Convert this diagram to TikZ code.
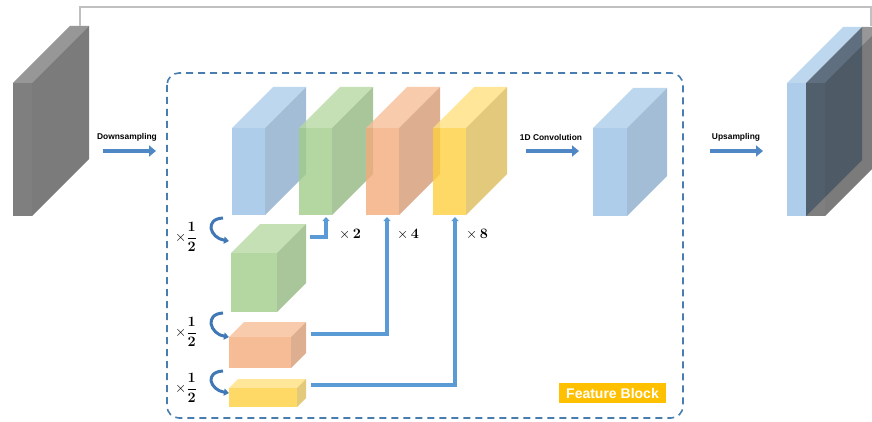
\documentclass[tikz,border=0pt]{standalone}
\usepackage{amsmath}
\usepackage[no-math]{fontspec}
\newfontfamily\arialfont{Liberation Sans}
\usetikzlibrary{arrows.meta}

% face colours: T top, F front, S side
\definecolor{grayT}{HTML}{979797}
\definecolor{grayF}{HTML}{7F7F7F}
\definecolor{grayS}{HTML}{7B7B7B}
\definecolor{blueT}{HTML}{BDD7EE}
\definecolor{blueF}{HTML}{ADCDEA}
\definecolor{blueS}{HTML}{A3BDD7}
\definecolor{greenT}{HTML}{B6D8A1}
\definecolor{greenF}{HTML}{A1CC88}
\definecolor{greenS}{HTML}{94B681}
\definecolor{orangeT}{HTML}{F6BE99}
\definecolor{orangeF}{HTML}{F3AB7C}
\definecolor{orangeS}{HTML}{D59A74}
\definecolor{yellowT}{HTML}{FFE080}
\definecolor{yellowF}{HTML}{FFD040}
\definecolor{yellowS}{HTML}{DCBC5A}
\definecolor{flowblue}{HTML}{4F87C4}
\definecolor{linkblue}{HTML}{5B9BD5}
\definecolor{curlblue}{HTML}{3F78B5}
\definecolor{dashblue}{HTML}{4A7DAF}
\definecolor{skipgray}{HTML}{C0C0C0}
\definecolor{tagyellow}{HTML}{FFC000}

% #1 name, #2/#3 front top left, #4 width, #5 height, #6 depth, #7 colour prefix
\newcommand{\prism}[7]{%
  \fill[#7F] (#2,#3) rectangle ++(#4,#5);
  \fill[#7T] (#2,#3) -- ++(#6,-#6) -- ++(#4,0) -- ++(-#6,#6) -- cycle;
  \fill[#7S] (#2+#4,#3) -- ++(#6,-#6) -- ++(0,#5) -- ++(-#6,#6) -- cycle;
  \coordinate (#1) at (#2,#3);
}

\tikzset{
  flow/.style={flowblue, line width=4.5pt, -{Triangle[length=7pt,width=11pt]}},
  link/.style={linkblue, line width=3.5pt, -{Triangle[length=4pt,width=7pt]}},
  curl/.style={curlblue, line width=3pt, -{Triangle[length=5pt,width=7pt]}},
  lbl/.style={font=\arialfont\bfseries\fontsize{8.4}{10}\selectfont},
  mlbl/.style={font=\fontsize{14.5}{16}\selectfont},
}

\begin{document}
\begin{tikzpicture}[x=1pt,y=-1pt]
    \useasboundingbox (0,0) rectangle (872,422);
    \clip (0,0) rectangle (872,422);

    % input and skip line
    \prism{inp}{13}{83}{19}{133}{57}{gray}
    \coordinate (skip-a) at (80,26);
    \coordinate (skip-b) at (871,26);
    \draw[skipgray, line width=2.5pt] (skip-a) |- (871,7) -- (skip-b);

    % feature block frame
    \draw[dashblue, line width=1.6pt, dash pattern=on 7pt off 5pt, rounded corners=12pt]
        (167,73) rectangle (683,418);
    \node[fill=tagyellow, text=white, inner sep=2pt, minimum width=107pt, minimum height=20pt,
          font=\arialfont\bfseries\fontsize{14}{15}\selectfont] (tag) at (612.5,393) {Feature Block};

    % main row
    \prism{b1}{232}{128}{33}{87}{41}{blue}
    \begin{scope}[fill opacity=0.8]
        \prism{g1}{299}{128}{33}{87}{41}{green}
        \prism{o1}{366}{128}{33}{87}{41}{orange}
        \prism{y1}{433}{128}{33}{87}{41}{yellow}
    % pooled branches
        \prism{g2}{231}{253}{46}{59}{29}{green}
        \prism{o2}{229}{337}{62}{31}{15}{orange}
        \prism{y2}{229}{388}{68}{19}{9}{yellow}
    \end{scope}

    % output
    \prism{conv}{593}{128}{34}{88}{40}{blue}
    \prism{outb}{787}{83}{19}{133}{56}{blue}
    \begin{scope}[blend mode=multiply]
        \prism{outg}{806}{83}{19}{133}{56}{gray}
    \end{scope}

    % flow arrows
    \coordinate (down-a) at (103,151);
    \coordinate (down-b) at (156,151);
    \coordinate (conv-a) at (526,151);
    \coordinate (conv-b) at (579,151);
    \coordinate (up-a) at (710,151);
    \coordinate (up-b) at (763,151);
    \draw[flow] (down-a) -- (down-b);
    \draw[flow] (conv-a) -- (conv-b);
    \draw[flow] (up-a) -- (up-b);
    \node[lbl] (down-txt) at (127,137) {Downsampling};
    \node[lbl] (conv-txt) at (551,137) {1D Convolution};
    \node[lbl] (up-txt) at (736,137) {Upsampling};

    % halving arrows
    \coordinate (h1-a) at (223,218);
    \coordinate (h1-b) at (229,241);
    \coordinate (h2-a) at (223,313);
    \coordinate (h2-b) at (229,337);
    \coordinate (h3-a) at (223,371);
    \coordinate (h3-b) at (229,393);
    \draw[curl] (h1-a) .. controls +(-19,1) and +(-19,-3) .. (h1-b);
    \draw[curl] (h2-a) .. controls +(-19,1) and +(-19,-3) .. (h2-b);
    \draw[curl] (h3-a) .. controls +(-19,1) and +(-19,-3) .. (h3-b);
    \node[mlbl] (h1-txt) at (186,237) {$\times\dfrac{\mathbf{1}}{\mathbf{2}}$};
    \node[mlbl] (h2-txt) at (186,332) {$\times\dfrac{\mathbf{1}}{\mathbf{2}}$};
    \node[mlbl] (h3-txt) at (186,388) {$\times\dfrac{\mathbf{1}}{\mathbf{2}}$};

    % upsampled links
    \coordinate (g2-out) at (310,237);
    \coordinate (g1-in) at (326,217);
    \coordinate (o2-out) at (311,334);
    \coordinate (o1-in) at (387,217);
    \coordinate (y2-out) at (311,385);
    \coordinate (y1-in) at (455,217);
    \draw[link] (g2-out) -| (g1-in);
    \draw[link] (o2-out) -| (o1-in);
    \draw[link] (y2-out) -| (y1-in);
    \node[mlbl] (x2-txt) at (350,234) {$\times\,\mathbf{2}$};
    \node[mlbl] (x4-txt) at (408,234) {$\times\,\mathbf{4}$};
    \node[mlbl] (x8-txt) at (477,234) {$\times\,\mathbf{8}$};
\end{tikzpicture}
\end{document}
